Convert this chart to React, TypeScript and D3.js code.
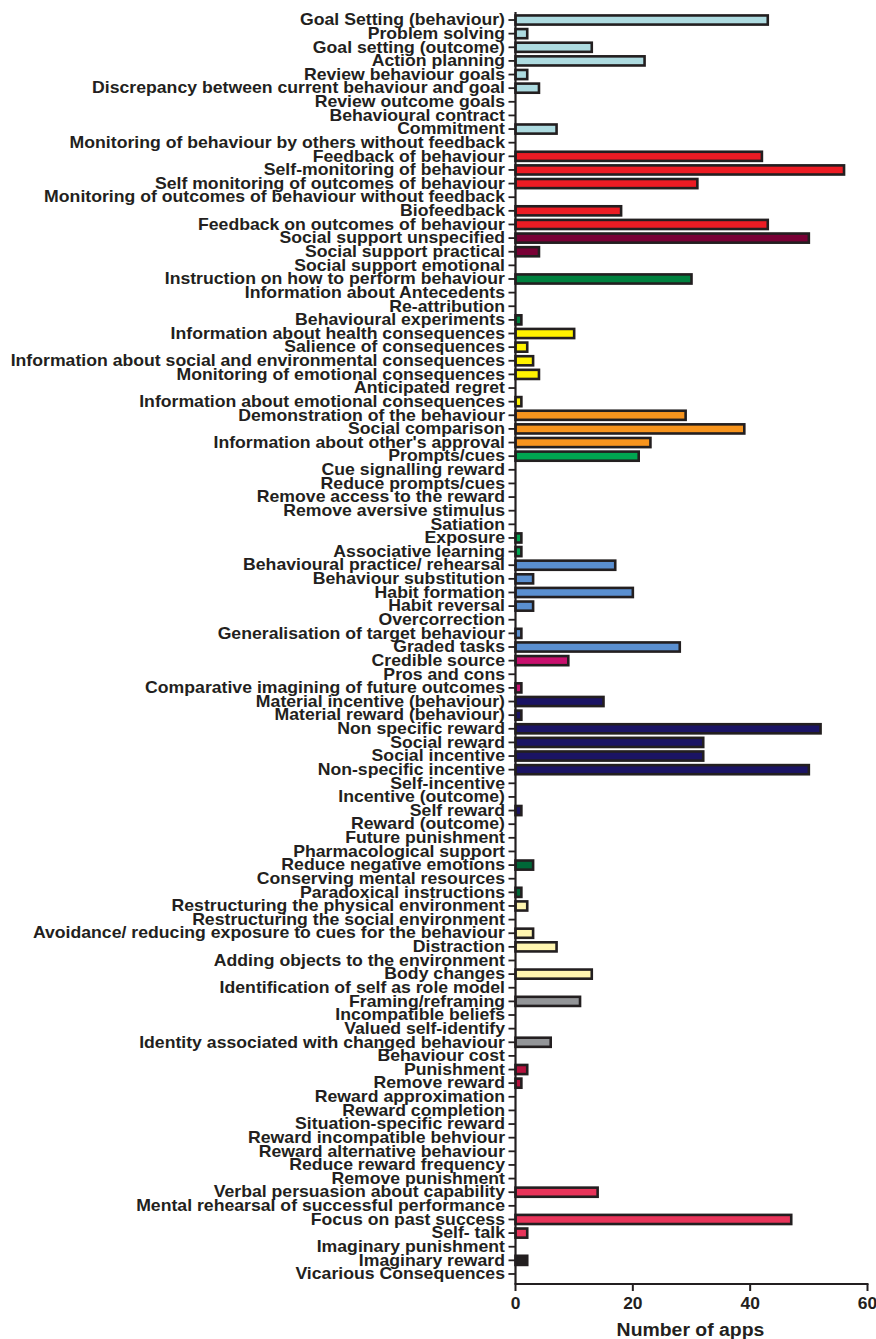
import React from 'react';
import * as d3 from 'd3';

const categories = [
  'Goal Setting (behaviour)',
  'Problem solving',
  'Goal setting (outcome)',
  'Action planning',
  'Review behaviour goals',
  'Discrepancy between current behaviour and goal',
  'Review outcome goals',
  'Behavioural contract',
  'Commitment',
  'Monitoring of behaviour by others without feedback',
  'Feedback of behaviour',
  'Self-monitoring of behaviour',
  'Self monitoring of outcomes of behaviour',
  'Monitoring of outcomes of behaviour without feedback',
  'Biofeedback',
  'Feedback on outcomes of behaviour',
  'Social support unspecified',
  'Social support practical',
  'Social support emotional',
  'Instruction on how to perform behaviour',
  'Information about Antecedents',
  'Re-attribution',
  'Behavioural experiments',
  'Information about health consequences',
  'Salience of consequences',
  'Information about social and environmental consequences',
  'Monitoring of emotional consequences',
  'Anticipated regret',
  'Information about emotional consequences',
  'Demonstration of the behaviour',
  'Social comparison',
  "Information about other's approval",
  'Prompts/cues',
  'Cue signalling reward',
  'Reduce prompts/cues',
  'Remove access to the reward',
  'Remove aversive stimulus',
  'Satiation',
  'Exposure',
  'Associative learning',
  'Behavioural practice/ rehearsal',
  'Behaviour substitution',
  'Habit formation',
  'Habit reversal',
  'Overcorrection',
  'Generalisation of target behaviour',
  'Graded tasks',
  'Credible source',
  'Pros and cons',
  'Comparative imagining of future outcomes',
  'Material incentive (behaviour)',
  'Material reward (behaviour)',
  'Non specific reward',
  'Social reward',
  'Social incentive',
  'Non-specific incentive',
  'Self-incentive',
  'Incentive (outcome)',
  'Self reward',
  'Reward (outcome)',
  'Future punishment',
  'Pharmacological support',
  'Reduce negative emotions',
  'Conserving mental resources',
  'Paradoxical instructions',
  'Restructuring the physical environment',
  'Restructuring the social environment',
  'Avoidance/ reducing exposure to cues for the behaviour',
  'Distraction',
  'Adding objects to the environment',
  'Body changes',
  'Identification of self as role model',
  'Framing/reframing',
  'Incompatible beliefs',
  'Valued self-identify',
  'Identity associated with changed behaviour',
  'Behaviour cost',
  'Punishment',
  'Remove reward',
  'Reward approximation',
  'Reward completion',
  'Situation-specific reward',
  'Reward incompatible behviour',
  'Reward alternative behaviour',
  'Reduce reward frequency',
  'Remove punishment',
  'Verbal persuasion about capability',
  'Mental rehearsal of successful performance',
  'Focus on past success',
  'Self- talk',
  'Imaginary punishment',
  'Imaginary reward',
  'Vicarious Consequences',
];

const appCounts = [
  43, 2, 13, 22, 2, 4, 0, 0, 7,
  0, 42, 56, 31, 0, 18, 43,
  50, 4, 0,
  30, 0, 0, 1,
  10, 2, 3, 4, 0, 1,
  29, 39, 23,
  21, 0, 0, 0, 0, 0, 1, 1,
  17, 3, 20, 3, 0, 1, 28,
  9, 0, 1,
  15, 1, 52, 32, 32, 50, 0, 0, 1, 0, 0,
  0, 3, 0, 1,
  2, 0, 3, 7, 0, 13,
  0, 11, 0, 0, 6,
  0, 2, 1, 0, 0, 0, 0, 0, 0, 0,
  14, 0, 47, 2,
  0, 2, 0,
];

// BCT taxonomy cluster of each category
const groupOf = [
  1, 1, 1, 1, 1, 1, 1, 1, 1,
  2, 2, 2, 2, 2, 2, 2,
  3, 3, 3,
  4, 4, 4, 4,
  5, 5, 5, 5, 5, 5,
  6, 6, 6,
  7, 7, 7, 7, 7, 7, 7, 7,
  8, 8, 8, 8, 8, 8, 8,
  9, 9, 9,
  10, 10, 10, 10, 10, 10, 10, 10, 10, 10, 10,
  11, 11, 11, 11,
  12, 12, 12, 12, 12, 12,
  13, 13, 13, 13, 13,
  14, 14, 14, 14, 14, 14, 14, 14, 14, 14,
  15, 15, 15, 15,
  16, 16, 16,
];

const groupColors = [
  '#aedbe0', '#ed1c24', '#780035', '#00813f',
  '#fff200', '#f7941d', '#00a651', '#5a8fd0',
  '#c8106e', '#1b1464', '#006838', '#fff5b0',
  '#939598', '#b5123e', '#e8345a', '#231f20',
];

const xTicks = [0, 20, 40, 60];

const ink = '#231f20';
const font = '"Liberation Sans", Arial, Helvetica, sans-serif';

export default function App() {
  const width = 876;
  const height = 1339;
  const axisY = 1284;

  const x = d3.scaleLinear().domain([0, 60]).range([515.5, 867.5]);
  const y = d3
    .scaleBand<string>()
    .domain(categories)
    .range([13.2, 1280.8])
    .paddingInner(0.33)
    .paddingOuter(0.165);
  const color = d3
    .scaleOrdinal<number, string>()
    .domain(d3.range(1, 17))
    .range(groupColors);

  const x0 = x(0);

  return (
    <svg
      width={width}
      height={height}
      style={{ position: 'absolute', left: 0, top: 0, background: '#fff' }}
      fontFamily={font}
      fontWeight="bold"
    >
      {categories.map((c, i) => {
        const v = appCounts[i];
        if (!v) return null;
        return (
          <rect
            key={c}
            x={x0}
            y={y(c)}
            width={x(v) - x0}
            height={y.bandwidth()}
            fill={color(groupOf[i])}
            stroke={ink}
            strokeWidth={2.6}
          />
        );
      })}

      {/* y axis */}
      <line x1={x0} x2={x0} y1={12} y2={axisY} stroke={ink} strokeWidth={2.2} />
      {categories.map((c) => {
        const cy = (y(c) ?? 0) + y.bandwidth() / 2;
        return (
          <g key={c}>
            <line x1={x0 - 7} x2={x0} y1={cy} y2={cy} stroke={ink} strokeWidth={1.8} />
            <text
              transform={`translate(505,${cy}) scale(1.09,1)`}
              textAnchor="end"
              dominantBaseline="central"
              fontSize={16.2}
              fill={ink}
            >
              {c}
            </text>
          </g>
        );
      })}

      {/* x axis */}
      <line x1={x0 - 1} x2={x(60) + 1} y1={axisY} y2={axisY} stroke={ink} strokeWidth={2.2} />
      {xTicks.map((t) => (
        <g key={t}>
          <line x1={x(t)} x2={x(t)} y1={axisY} y2={axisY + 7} stroke={ink} strokeWidth={2} />
          <text
            transform={`translate(${x(t)},1309) scale(1.09,1)`}
            textAnchor="middle"
            fontSize={16}
            fill={ink}
          >
            {t}
          </text>
        </g>
      ))}
      <text
        transform={`translate(${(x(0) + x(60)) / 2 - 1},1336) scale(1.05,1)`}
        textAnchor="middle"
        fontSize={18.5}
        fill={ink}
      >
        Number of apps
      </text>
    </svg>
  );
}
